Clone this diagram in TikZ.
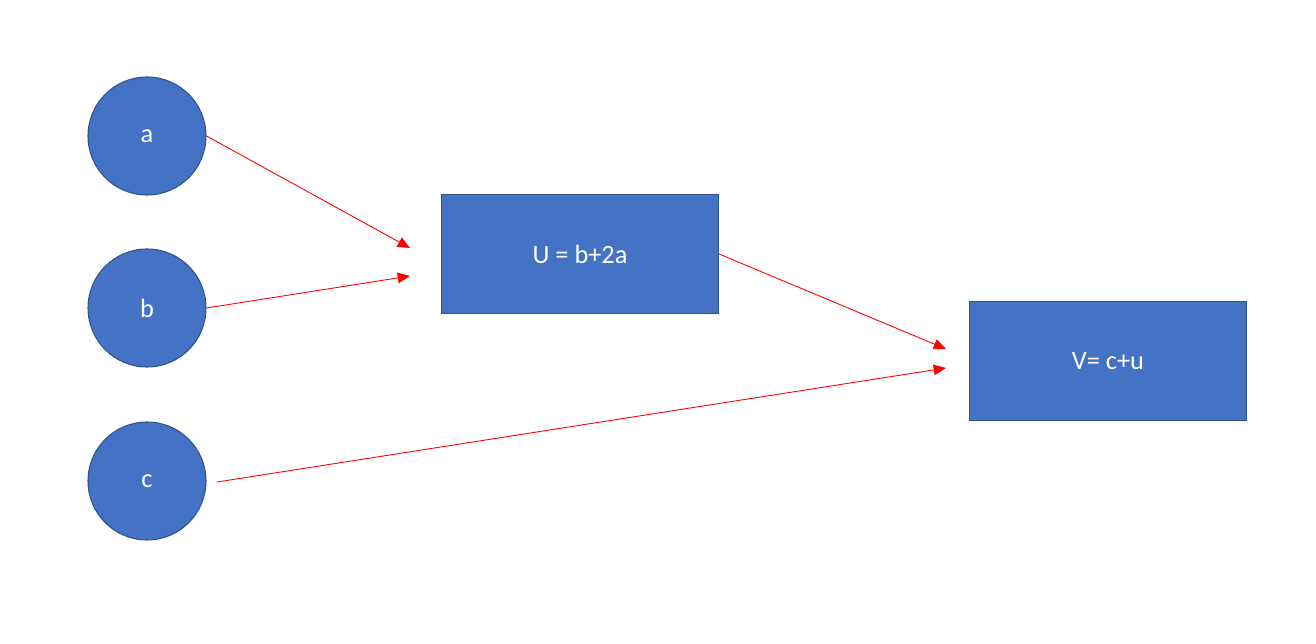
\documentclass[tikz,border=0pt]{standalone}
\usepackage{fontspec}
\setmainfont{Carlito}
\usetikzlibrary{arrows.meta}
\definecolor{fillb}{HTML}{4472C4}
\definecolor{edgeb}{HTML}{2F528F}
\begin{document}
\begin{tikzpicture}[x=0.02cm,y=-0.02cm,
  circ/.style={circle,fill=fillb,draw=edgeb,line width=0.6pt,minimum size=118*0.02cm,inner sep=0,text=white,font=\fontsize{15}{18}\selectfont},
  box/.style={rectangle,fill=fillb,draw=edgeb,line width=0.6pt,minimum width=277*0.02cm,minimum height=119*0.02cm,text=white,font=\fontsize{15}{18}\selectfont},
  arr/.style={red,line width=0.5pt,-{Triangle[length=7pt,width=6pt]}}]
\useasboundingbox (0,0) rectangle (1316,644);
\node[circ] (a) at (147,136) {a};
\node[circ] (b) at (147,308) {b};
\node[circ] (c) at (147,481) {c};
\node[box] (u) at (580,254) {U = b+2a};
\node[box] (v) at (1108,361) {V= c+u};
\coordinate (ua) at (410,248);
\coordinate (ub) at (410,276);
\coordinate (vu) at (946,349);
\coordinate (vc) at (946,368);
\coordinate (cs) at (217,482);
\draw[arr] (a.east) -- (ua);
\draw[arr] (b.east) -- (ub);
\draw[arr] (u.east) -- (vu);
\draw[arr] (cs) -- (vc);
\end{tikzpicture}
\end{document}
